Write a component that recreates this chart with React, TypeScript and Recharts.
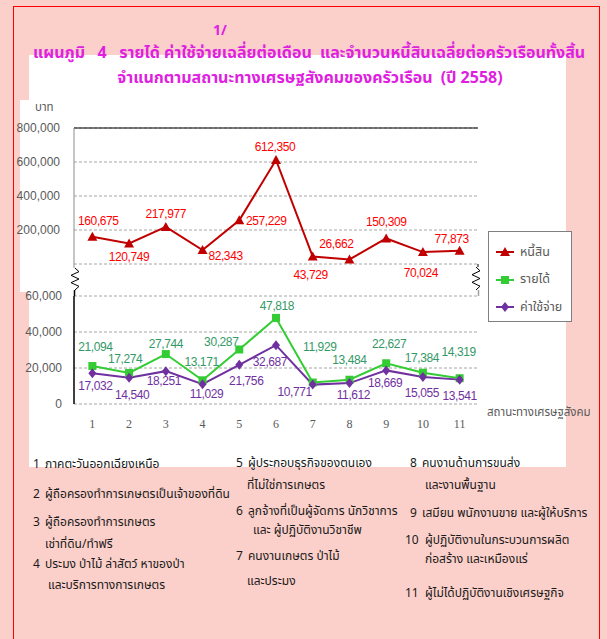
import React from 'react';
import {
  LineChart,
  Line,
  XAxis,
  YAxis,
  CartesianGrid,
  ReferenceLine,
  LabelList,
} from 'recharts';

// categories (socio-economic class codes)
const categories = ['1', '2', '3', '4', '5', '6', '7', '8', '9', '10', '11'];
// average household debt (บาท)
const debt = [160675, 120749, 217977, 82343, 257229, 612350, 43729, 26662, 150309, 70024, 77873];
// monthly income
const income = [21094, 17274, 27744, 13171, 30287, 47818, 11929, 13484, 22627, 17384, 14319];
// monthly expenditure
const expense = [17032, 14540, 18251, 11029, 21756, 32687, 10771, 11612, 18669, 15055, 13541];

const upperTicks = [0, 200000, 400000, 600000, 800000];
const lowerTicks = [0, 20000, 40000, 60000];

// label nudges [dx, dy] per point
const debtLabelPos = [[6, -16], [0, 14], [0, -13], [23, 6], [27, 1], [-1, -13], [-2, 18], [-13, -15], [0, -16], [-2, 21], [-8, -12]];
const incomeLabelPos = [[3, -19], [-4, -14], [0, -10], [-1, -18], [-18, -7], [1, -12], [7, -36], [0, -20], [3, -19], [-1, -15], [-1, -26]];
const expenseLabelPos = [[3, 13], [3, 17], [-2, 10], [4, 10], [7, 16], [-6, 17], [-18, 7], [4, 12], [-1, 13], [-1, 16], [0, 16]];

const rows = categories.map((c, i) => ({
  pos: i + 1,
  name: c,
  debt: debt[i],
  income: income[i],
  expense: expense[i],
}));
const bandEdges = categories.map((_, i) => i + 0.5).concat(categories.length + 0.5);
const xDomain = [0.5, categories.length + 0.5];

const DEBT = '#C00000';
const INCOME = '#33CC33';
const EXPENSE = '#7030A0';
const GRAY = '#595959';
const PINK = '#FCD0CA';
const MAGENTA = '#E020E0';
const NUM_FONT = "'Liberation Sans', Arial, sans-serif";
const THAI_FONT = "'Noto Sans Thai', 'Noto Sans', 'DejaVu Sans', sans-serif";

const fmt = (v: number) => v.toLocaleString('en-US');

const makeLabel = (offsets: number[][], color: string) => (props: any) => {
  const { x, y, index, value } = props;
  const [dx, dy] = offsets[index] || [0, -12];
  return (
    <text
      x={x + dx}
      y={y + dy}
      textAnchor="middle"
      dominantBaseline="central"
      fill={color}
      fontSize={12}
      letterSpacing={-0.4}
      fontFamily={NUM_FONT}
    >
      {fmt(value)}
    </text>
  );
};

const triangleDot = (props: any) => {
  const { cx, cy, index } = props;
  return <path key={`t${index}`} d={`M${cx},${cy - 5} L${cx + 5},${cy + 4} L${cx - 5},${cy + 4} Z`} fill={DEBT} />;
};
const squareDot = (props: any) => {
  const { cx, cy, index } = props;
  return <rect key={`s${index}`} x={cx - 4} y={cy - 4} width={8} height={8} fill={INCOME} />;
};
const diamondDot = (props: any) => {
  const { cx, cy, index } = props;
  return <path key={`d${index}`} d={`M${cx},${cy - 5} L${cx + 4},${cy} L${cx},${cy + 5} L${cx - 4},${cy} Z`} fill={EXPENSE} />;
};

const tickStyle = { fill: GRAY, fontSize: 12, fontFamily: NUM_FONT };

function UpperChart() {
  return (
    <LineChart width={480} height={171} data={rows} margin={{ top: 10, right: 2, bottom: 25, left: 0 }}>
      <CartesianGrid vertical={false} stroke="#A6A6A6" strokeDasharray="3 2" />
      <XAxis dataKey="pos" type="number" domain={xDomain} hide />
      <YAxis
        domain={[0, 800000]}
        ticks={upperTicks}
        width={74}
        tick={tickStyle}
        tickFormatter={(v: number) => (v === 0 ? '' : fmt(v))}
        tickLine={false}
        tickSize={8}
        tickMargin={6}
        axisLine={{ stroke: '#8C8C8C' }}
        interval={0}
      />
      <YAxis yAxisId="r" orientation="right" width={0} tick={false} tickLine={false} axisLine={{ stroke: '#000' }} />
      <ReferenceLine y={800000} stroke="#000" strokeWidth={1.2} />
      <Line
        dataKey="debt"
        stroke={DEBT}
        strokeWidth={2}
        dot={triangleDot}
        activeDot={false}
        isAnimationActive={false}
      >
        <LabelList dataKey="debt" content={makeLabel(debtLabelPos, '#FF0000')} />
      </Line>
    </LineChart>
  );
}

function LowerChart() {
  return (
    <LineChart width={480} height={148} data={rows} margin={{ top: 10, right: 2, bottom: 0, left: 0 }}>
      <CartesianGrid vertical={false} stroke="#A6A6A6" strokeDasharray="3 2" />
      <XAxis
        xAxisId="edges"
        type="number"
        domain={xDomain}
        ticks={bandEdges}
        interval={0}
        height={0}
        tickFormatter={() => ''}
        tickSize={4}
        tickLine={{ stroke: '#000' }}
        axisLine={{ stroke: '#000', strokeWidth: 1.5 }}
      />
      <XAxis
        xAxisId="cat"
        dataKey="pos"
        type="number"
        domain={xDomain}
        ticks={rows.map((r) => r.pos)}
        interval={0}
        height={30}
        tickFormatter={(v: number) => categories[v - 1]}
        tick={{ fill: GRAY, fontSize: 12, fontFamily: "'Liberation Serif', serif" }}
        tickLine={false}
        tickSize={0}
        tickMargin={15}
        axisLine={false}
      />
      <YAxis
        domain={[0, 60000]}
        ticks={lowerTicks}
        width={74}
        tick={tickStyle}
        tickFormatter={fmt}
        tickLine={false}
        tickSize={8}
        tickMargin={4}
        axisLine={{ stroke: '#000', strokeWidth: 1.5 }}
        interval={0}
      />
      <YAxis yAxisId="r" orientation="right" width={0} tick={false} tickLine={false} axisLine={{ stroke: '#A0A0A0', strokeWidth: 1.5 }} />
      <Line
        xAxisId="cat"
        dataKey="income"
        stroke={INCOME}
        strokeWidth={2}
        dot={squareDot}
        activeDot={false}
        isAnimationActive={false}
      >
        <LabelList dataKey="income" content={makeLabel(incomeLabelPos, '#339966')} />
      </Line>
      <Line
        xAxisId="cat"
        dataKey="expense"
        stroke={EXPENSE}
        strokeWidth={2}
        dot={diamondDot}
        activeDot={false}
        isAnimationActive={false}
      >
        <LabelList dataKey="expense" content={makeLabel(expenseLabelPos, EXPENSE)} />
      </Line>
    </LineChart>
  );
}

const legendItems = [
  { label: 'หนี้สิน', color: DEBT, shape: 'tri' },
  { label: 'รายได้', color: INCOME, shape: 'sq' },
  { label: 'ค่าใช้จ่าย', color: EXPENSE, shape: 'dia' },
];

function LegendBox() {
  return (
    <div
      style={{
        position: 'absolute',
        left: 488,
        top: 231,
        width: 84,
        height: 91,
        border: '1px solid #7F7F7F',
        background: '#fff',
        boxSizing: 'border-box',
      }}
    >
      {legendItems.map((it, i) => (
        <div key={it.label} style={{ position: 'absolute', left: 7, top: 11 + i * 27.5, height: 18, display: 'flex', alignItems: 'center' }}>
          <svg width={20} height={12}>
            <line x1={0} y1={6} x2={18} y2={6} stroke={it.color} strokeWidth={2} />
            {it.shape === 'tri' && <path d="M9,1 L14,10 L4,10 Z" fill={it.color} />}
            {it.shape === 'sq' && <rect x={5} y={2} width={8} height={8} fill={it.color} />}
            {it.shape === 'dia' && <path d="M9,1 L13,6 L9,11 L5,6 Z" fill={it.color} />}
          </svg>
          <span style={{ marginLeft: 4, fontSize: 12.5, color: GRAY, fontFamily: THAI_FONT }}>{it.label}</span>
        </div>
      ))}
    </div>
  );
}

// footnote text blocks: [left, top, number, text]
const notes: [number, number, string, string][] = [
  [33, 455, '1', 'ภาคตะวันออกเฉียงเหนือ'],
  [33, 485, '2', 'ผู้ถือครองทำการเกษตรเป็นเจ้าของที่ดิน'],
  [33, 513, '3', 'ผู้ถือครองทำการเกษตร'],
  [45, 535, '', 'เช่าที่ดิน/ทำฟรี'],
  [33, 555, '4', 'ประมง ป่าไม้ ล่าสัตว์ หาของป่า'],
  [48, 576, '', 'และบริการทางการเกษตร'],
  [236, 454, '5', 'ผู้ประกอบธุรกิจของตนเอง'],
  [247, 476, '', 'ที่ไม่ใช่การเกษตร'],
  [236, 502, '6', 'ลูกจ้างที่เป็นผู้จัดการ นักวิชาการ'],
  [253, 521, '', 'และ ผู้ปฏิบัติงานวิชาชีพ'],
  [236, 547, '7', 'คนงานเกษตร ป่าไม้'],
  [247, 572, '', 'และประมง'],
  [410, 454, '8', 'คนงานด้านการขนส่ง'],
  [425, 476, '', 'และงานพื้นฐาน'],
  [410, 504, '9', 'เสมียน พนักงานขาย และผู้ให้บริการ'],
  [405, 531, '10', 'ผู้ปฏิบัติงานในกระบวนการผลิต'],
  [425, 550, '', 'ก่อสร้าง และเหมืองแร่'],
  [405, 584, '11', 'ผู้ไม่ได้ปฏิบัติงานเชิงเศรษฐกิจ'],
];

function zig(x: number, y0: number, y1: number, n: number) {
  const step = (y1 - y0) / n;
  let d = `M${x},${y0}`;
  for (let i = 1; i <= n; i++) {
    const xx = i === n ? x : x + (i % 2 === 1 ? 4 : -4);
    d += ` L${xx},${y0 + step * i}`;
  }
  return d;
}

export default function App() {
  return (
    <div style={{ position: 'absolute', left: 0, top: 0, width: 607, height: 639, background: PINK, overflow: 'hidden' }}>
      <div style={{ position: 'absolute', left: 13, top: 6, width: 587, height: 650, border: '1px solid #FF0000', boxSizing: 'border-box' }} />
      <div style={{ position: 'absolute', left: 29, top: 55, width: 537, height: 412, background: '#fff' }} />
      <div style={{ position: 'absolute', left: 20, top: 100, width: 460, height: 192, background: '#fff' }} />

      <div style={{ position: 'absolute', left: 213, top: 20, fontSize: 14, color: MAGENTA, fontFamily: THAI_FONT, fontWeight: 'bold' }}>1/</div>
      <div
        style={{
          position: 'absolute',
          left: 33,
          top: 41,
          whiteSpace: 'nowrap',
          fontSize: 16,
          color: MAGENTA,
          fontFamily: THAI_FONT,
          fontWeight: 'bold',
          lineHeight: '24px',
        }}
      >
        แผนภูมิ&nbsp;&nbsp;&nbsp;4&nbsp;&nbsp;&nbsp;รายได้ ค่าใช้จ่ายเฉลี่ยต่อเดือน&nbsp;&nbsp;และจำนวนหนี้สินเฉลี่ยต่อครัวเรือนทั้งสิ้น
      </div>
      <div
        style={{
          position: 'absolute',
          left: 0,
          top: 66,
          width: 620,
          textAlign: 'center',
          whiteSpace: 'nowrap',
          fontSize: 16,
          color: MAGENTA,
          fontFamily: THAI_FONT,
          fontWeight: 'bold',
          lineHeight: '24px',
        }}
      >
        จำแนกตามสถานะทางเศรษฐสังคมของครัวเรือน&nbsp;&nbsp;(ปี 2558)
      </div>

      <div style={{ position: 'absolute', left: 35, top: 99, fontSize: 11.5, color: GRAY, fontFamily: THAI_FONT }}>บาท</div>

      <div style={{ position: 'absolute', left: 0, top: 118 }}>
        <UpperChart />
      </div>
      <div style={{ position: 'absolute', left: 0, top: 286 }}>
        <LowerChart />
      </div>

      <svg width={607} height={639} style={{ position: 'absolute', left: 0, top: 0, pointerEvents: 'none' }}>
        <line x1={74} y1={264} x2={74} y2={268} stroke="#8C8C8C" />
        <path d={zig(75, 268, 290, 6)} fill="none" stroke="#000" strokeWidth={1} />
        <line x1={74.5} y1={290} x2={74.5} y2={296} stroke="#000" strokeWidth={1.5} />
        <line x1={478} y1={264} x2={478} y2={267} stroke="#000" />
        <path d={zig(476, 267, 290, 6)} fill="none" stroke="#000" strokeWidth={1} />
        <line x1={478.5} y1={290} x2={478.5} y2={296} stroke="#A0A0A0" strokeWidth={1.5} />
      </svg>

      <LegendBox />

      <div style={{ position: 'absolute', left: 487, top: 404, fontSize: 11.5, color: GRAY, fontFamily: THAI_FONT, whiteSpace: 'nowrap' }}>
        สถานะทางเศรษฐสังคม
      </div>

      {notes.map(([x, y, n, t], i) => (
        <div
          key={i}
          style={{
            position: 'absolute',
            left: x,
            top: y,
            fontSize: 12,
            lineHeight: '18px',
            color: '#1a1a1a',
            fontFamily: THAI_FONT,
            whiteSpace: 'nowrap',
          }}
        >
          {n && <span style={{ display: 'inline-block', width: n.length > 1 ? 20 : 12 }}>{n}</span>}
          {t}
        </div>
      ))}
    </div>
  );
}
